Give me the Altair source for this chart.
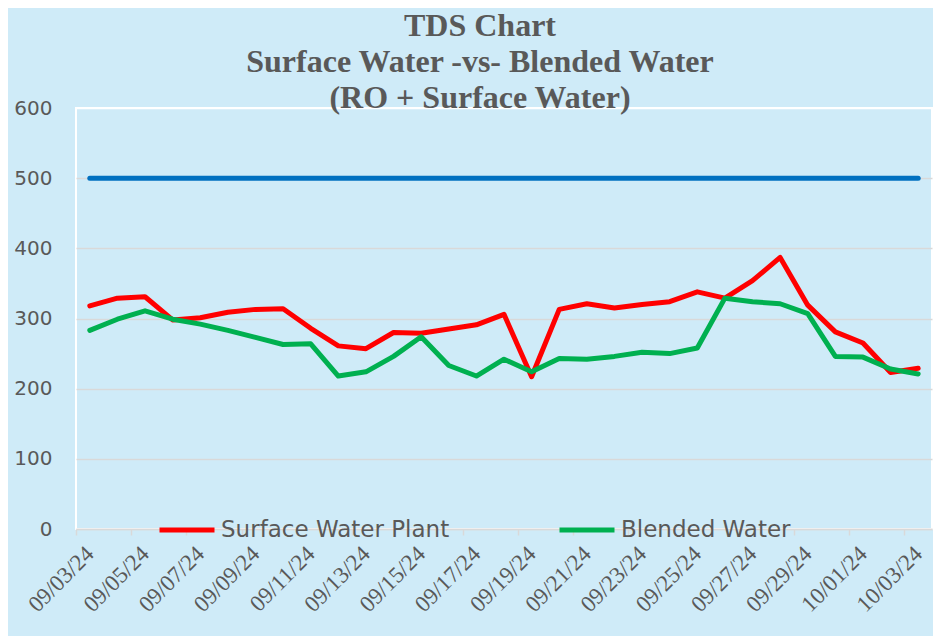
import altair as alt
import pandas as pd

dates = ["09/03/24", "09/04/24", "09/05/24", "09/06/24", "09/07/24", "09/08/24",
         "09/09/24", "09/10/24", "09/11/24", "09/12/24", "09/13/24", "09/14/24",
         "09/15/24", "09/16/24", "09/17/24", "09/18/24", "09/19/24", "09/20/24",
         "09/21/24", "09/22/24", "09/23/24", "09/24/24", "09/25/24", "09/26/24",
         "09/27/24", "09/28/24", "09/29/24", "09/30/24", "10/01/24", "10/02/24",
         "10/03/24"]

surface_water = [318, 329, 331, 298, 301, 309, 313, 314, 286, 261, 257, 280, 279, 285,
                 291, 306, 217, 313, 321, 315, 320, 324, 338, 329, 354, 387, 319, 281,
                 265, 223, 229]

blended_water = [283, 299, 311, 299, 292, 283, 273, 263, 264, 218, 224, 246, 274, 233,
                 218, 242, 224, 243, 242, 246, 252, 250, 258, 329, 324, 321, 307, 246,
                 245, 228, 221]

limit_value = 500

series_names = ["Surface Water Plant", "Blended Water"]
series_colors = ["#FF0000", "#00B050"]
limit_color = "#0070C0"

tick_dates = dates[::2]
y_ticks = [0, 100, 200, 300, 400, 500, 600]

long_df = pd.DataFrame({
    "date": dates * 2,
    "value": surface_water + blended_water,
    "series": [series_names[0]] * len(dates) + [series_names[1]] * len(dates),
})
limit_df = pd.DataFrame({"date": dates, "value": [limit_value] * len(dates)})

PLOT_W = 856
PLOT_H = 421
step = PLOT_W / len(dates)
TEXT = "#595959"
GRID = "#D9D9D9"

x_enc = alt.X(
    "date:O",
    sort=dates,
    scale=alt.Scale(type="point", padding=0.5),
    axis=alt.Axis(
        values=tick_dates,
        title=None,
        labelAngle=-45,
        labelAlign="right",
        labelBaseline="middle",
        labelFont="Liberation Serif",
        labelFontSize=23,
        labelColor=TEXT,
        labelPadding=15,
        labelOffset=step / 2,
        tickOffset=-step / 2,
        tickSize=6,
        tickColor=GRID,
        tickWidth=1.5,
        domainColor=GRID,
        domainWidth=1.5,
        grid=False,
    ),
)

y_enc = alt.Y(
    "value:Q",
    scale=alt.Scale(domain=[0, 600], nice=False, zero=True),
    axis=alt.Axis(
        values=y_ticks,
        title=None,
        ticks=False,
        domain=False,
        labelFont="DejaVu Sans",
        labelFontSize=20,
        labelColor=TEXT,
        labelPadding=24,
        gridColor={"condition": {"test": "datum.value === 600", "value": "#FFFFFF"},
                   "value": GRID},
        gridWidth=1.5,
    ),
)

color_enc = alt.Color(
    "series:N",
    scale=alt.Scale(domain=series_names, range=series_colors),
    legend=alt.Legend(
        title=None,
        orient="none",
        direction="horizontal",
        legendX=81,
        legendY=392,
        symbolType="stroke",
        symbolSize=3025,
        symbolStrokeWidth=5,
        labelFont="DejaVu Sans",
        labelFontSize=23,
        labelColor=TEXT,
        labelOffset=4,
        columnPadding=99,
        labelLimit=400,
    ),
)

limit_line = alt.Chart(limit_df).mark_line(
    color=limit_color, strokeWidth=5, strokeCap="round"
).encode(x=x_enc, y=y_enc)

base = alt.Chart(long_df)
red = base.transform_filter(alt.datum.series == series_names[0]).mark_line(
    strokeWidth=5, strokeCap="round", strokeJoin="round"
).encode(x=x_enc, y=y_enc, color=color_enc)
green = base.transform_filter(alt.datum.series == series_names[1]).mark_line(
    strokeWidth=5, strokeCap="round", strokeJoin="round"
).encode(x=x_enc, y=y_enc, color=color_enc)

chart = alt.layer(limit_line, red, green).properties(
    width=PLOT_W,
    height=PLOT_H,
    title=alt.TitleParams(
        text=["TDS Chart", "Surface Water -vs- Blended Water", "(RO + Surface Water)"],
        font="Liberation Serif",
        fontSize=32,
        fontWeight="bold",
        color=TEXT,
        lineHeight=36,
        anchor="middle",
        frame="group",
        dx=-24,
        offset=-17,
    ),
    autosize=alt.AutoSizeParams(type="none"),
    padding={"left": 68, "top": 100, "right": 1, "bottom": 107},
    background="#CFEBF8",
).configure_view(
    stroke="#FFFFFF",
    strokeWidth=2,
)

chart.save("out.html", embed_options={"renderer": "svg", "actions": False})
